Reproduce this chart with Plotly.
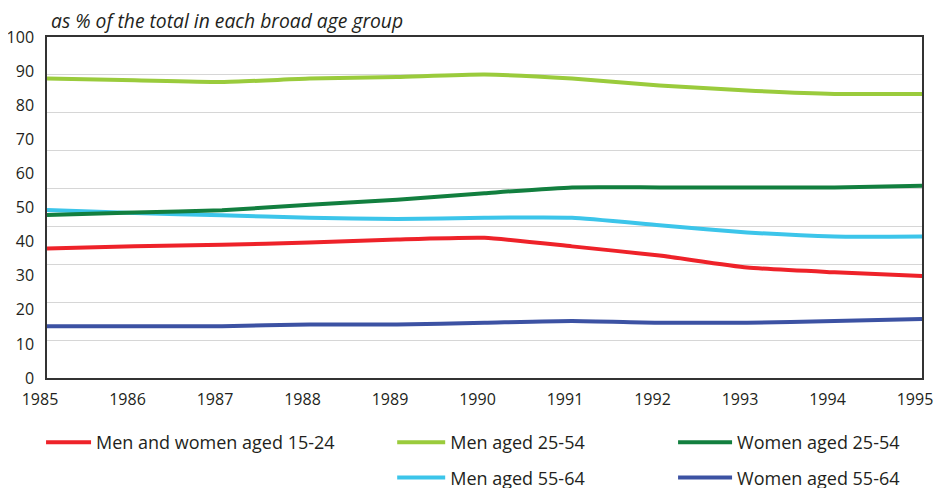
import plotly.graph_objects as go

years = [1985, 1986, 1987, 1988, 1989, 1990, 1991, 1992, 1993, 1994, 1995]

youth_15_24 = [38.0, 38.6, 39.1, 39.7, 40.6, 41.1, 38.6, 35.9, 32.4, 31.0, 29.9]
men_25_54 = [87.8, 87.3, 86.8, 87.8, 88.3, 89.0, 87.8, 85.8, 84.3, 83.3, 83.3]
women_25_54 = [47.8, 48.5, 49.2, 50.8, 52.3, 54.2, 55.9, 55.9, 55.9, 55.9, 56.4]
men_55_64 = [49.3, 48.4, 47.7, 47.0, 46.6, 47.0, 47.0, 44.8, 42.7, 41.5, 41.5]
women_55_64 = [15.2, 15.2, 15.2, 15.7, 15.7, 16.2, 16.7, 16.2, 16.2, 16.7, 17.3]

y_ticks = [0, 10, 20, 30, 40, 50, 60, 70, 80, 90, 100]
grid_ticks = [0, 10, 20, 30, 40, 50, 60, 70, 80, 90]

series = [
    ("Men and women aged 15-24", youth_15_24, "#ee2229", "legend"),
    ("Men aged 25-54", men_25_54, "#9acb3c", "legend2"),
    ("Men aged 55-64", men_55_64, "#3cc5ea", "legend2"),
    ("Women aged 25-54", women_25_54, "#127f3f", "legend3"),
    ("Women aged 55-64", women_55_64, "#3c52a3", "legend3"),
]

FONT = "Open Sans"

fig = go.Figure()

# dummy trace so the secondary (gridline) axis gets drawn
fig.add_trace(go.Scatter(x=years[:1], y=[None], yaxis="y2", showlegend=False,
                         hoverinfo="skip", mode="lines"))

for name, vals, color, leg in series:
    fig.add_trace(go.Scatter(
        x=years, y=vals, name=name, mode="lines", legendgroup=name,
        line=dict(color=color, width=4, shape="spline", smoothing=0.5),
        legend=leg,
    ))

leg_common = dict(orientation="v", yref="container", yanchor="top", y=0.1475,
                  xanchor="left",
                  font=dict(family=FONT, size=18, color="#231f20"),
                  bgcolor="rgba(0,0,0,0)", tracegroupgap=9, itemwidth=45)

# the page body adds an 8px offset, so margins are 8px smaller than the target
fig.update_layout(
    width=942, height=488,
    margin=dict(l=39, r=28, t=29, b=118),
    paper_bgcolor="white", plot_bgcolor="white",
    font=dict(family=FONT, size=16, color="#231f20"),
    showlegend=True,
    xaxis=dict(
        range=[1985, 1995], tickvals=years, showgrid=False, automargin=False,
        showline=True, linecolor="#333333", linewidth=1.5, mirror=True,
        ticks="", tickfont=dict(size=16), zeroline=False,
        ticklabelstandoff=6, ticklabelshift=-7, ticklabeloverflow="allow",
    ),
    yaxis=dict(
        range=[0, 100], tickvals=y_ticks, showgrid=False, automargin=False,
        showline=True, linecolor="#333333", linewidth=1.5, mirror=True,
        ticks="", tickfont=dict(size=16), zeroline=False,
        ticklabelstandoff=8, ticklabeloverflow="allow",
    ),
    yaxis2=dict(
        range=[0, 90], tickvals=grid_ticks, overlaying="y", side="right",
        showgrid=True, gridcolor="#d6d6d6", gridwidth=1.2, automargin=False,
        showticklabels=False, zeroline=False, showline=False,
    ),
    legend=dict(leg_common, x=-0.0068),
    legend2=dict(leg_common, x=0.3945, itemwidth=48),
    legend3=dict(leg_common, x=0.7155, itemwidth=54),
    annotations=[dict(
        text="as % of the total in each broad age group", xref="paper", yref="paper",
        x=0.0023, y=1.003, xanchor="left", yanchor="bottom", showarrow=False,
        font=dict(family=FONT, size=19.3, color="#231f20", style="italic"),
    )],
)

fig.write_html("out.html")
